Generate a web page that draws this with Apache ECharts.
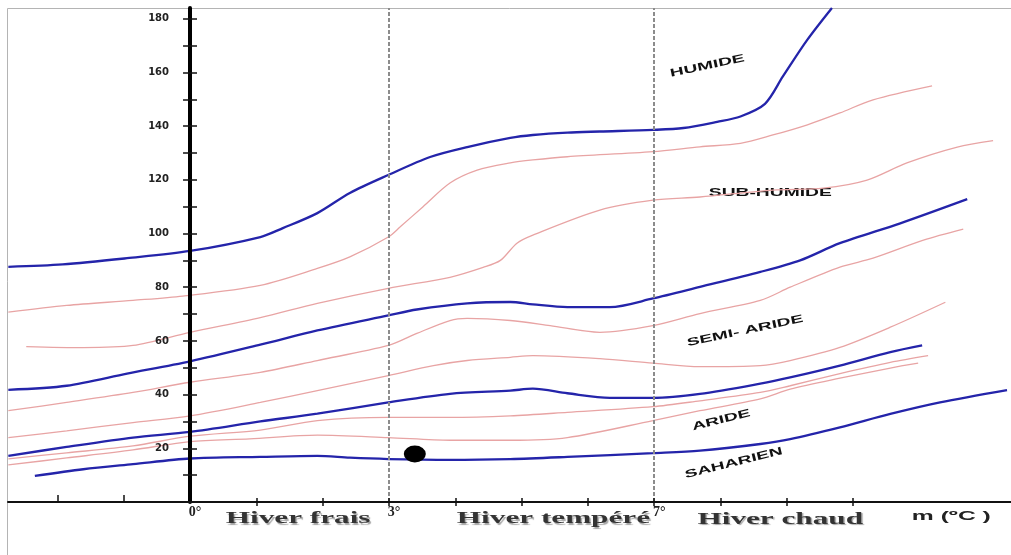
<!DOCTYPE html>
<html><head><meta charset="utf-8">
<script src="https://cdn.jsdelivr.net/npm/echarts@6/dist/echarts.min.js"></script>
<style>html,body{margin:0;padding:0;background:#fff}#c{width:1011px;height:555px}</style>
</head><body><div id="c"></div>
<script>
// Emberger climagram: x = m (°C), y = Q2
const limitHumide = [[-2.74,87.6],[-1.92,88.5],[-0.95,90.8],[0,93.5],[1.06,98.7],[1.40,102],[1.92,107.6],[2.41,115.1],[2.99,121.8],[3.62,128.5],[4.18,132.2],[4.83,135.6],[5.17,136.7],[5.69,137.6],[6.18,138],[6.98,138.6],[7.44,139.3],[7.95,141.6],[8.30,143.6],[8.67,148.3],[8.94,158.5],[9.31,172.2],[9.68,184]];
const subHumideUpper = [[-2.74,70.7],[-1.86,73.2],[-0.86,75.1],[-0.11,76.7],[1.06,80.7],[1.92,87],[2.41,91.3],[2.99,98.7],[3.17,102.5],[3.51,109.9],[3.92,118.8],[4.33,123.6],[4.83,126.3],[5.17,127.4],[5.69,128.6],[6.98,130.5],[7.69,132.3],[8.30,133.6],[8.79,136.7],[9.31,140.5],[9.80,144.9],[10.30,149.8],[11.19,155]];
const subHumideLower = [[-2.47,57.9],[-1.61,57.5],[-0.86,58.3],[0,63.2],[1.06,68.7],[1.92,74],[2.99,79.6],[3.92,83.7],[4.42,87.4],[4.68,90],[4.93,96.4],[5.17,99.4],[6.18,108.7],[6.98,112.4],[7.69,113.6],[8.79,116.2],[9.55,116.9],[10.21,119.9],[10.81,126.3],[11.57,132.2],[12.11,134.6]];
const limitSubHumide = [[-2.74,41.8],[-1.86,43.3],[-0.95,47.8],[0,52.4],[1.06,58.6],[1.92,63.9],[2.99,69.5],[3.42,71.7],[4.18,74],[4.83,74.5],[5.17,73.6],[5.69,72.6],[6.33,72.6],[6.98,75.8],[7.69,80.1],[8.60,85.7],[9.20,90],[9.80,96.4],[10.71,103.8],[11.72,112.8]];
const semiArideUpper = [[-2.74,34],[-1.86,37.1],[-0.86,40.8],[0,44.6],[1.06,48.3],[1.92,52.7],[2.99,58.3],[3.42,62.8],[3.92,67.6],[4.18,68.4],[4.83,67.6],[5.43,65.7],[6.18,63.2],[6.98,65.7],[7.69,70.2],[8.60,75.1],[9.05,80],[9.80,87.5],[10.30,90.8],[11.06,97.5],[11.66,101.6]];
const semiArideLower = [[-2.74,24],[-1.86,26.5],[-0.86,29.6],[0,32.1],[1.06,37.1],[1.92,41.5],[2.99,47.1],[3.67,50.8],[4.18,52.7],[4.83,53.9],[5.17,54.5],[6.18,53.4],[6.98,51.7],[7.69,50.4],[8.60,50.8],[9.05,52.7],[9.80,57.6],[10.56,65.1],[11.39,74.4]];
const limitSemiAride = [[-2.74,17.2],[-1.86,20.5],[-0.86,24],[0,26.1],[1.06,30],[1.92,32.9],[2.99,37.1],[3.92,40.3],[4.83,41.5],[5.17,42.2],[5.69,40.5],[6.33,38.8],[6.98,38.8],[7.69,40.3],[8.60,44.1],[9.05,46.4],[9.80,50.8],[10.56,55.8],[11.04,58.3]];
const arideUpper = [[-2.74,16.1],[-1.86,18.3],[-0.86,20.9],[0,24.5],[1.06,26.8],[1.92,30.3],[2.99,31.5],[3.92,31.5],[4.83,32.1],[5.69,33.4],[6.98,35.5],[7.69,37.7],[8.60,40.8],[9.05,43.3],[9.80,47.8],[10.56,52],[11.13,54.5]];
const arideLower = [[-2.74,13.8],[-1.86,16.4],[-0.86,19.4],[0,22.5],[0.90,23.5],[1.92,24.9],[2.99,24],[3.92,23],[4.83,23],[5.69,24],[6.98,30.3],[7.69,34],[8.60,38.4],[9.05,42],[9.80,46.1],[10.56,49.9],[10.98,51.7]];
const limitAride = [[-2.34,9.7],[-1.61,12.2],[-0.86,14.1],[0,16.2],[1.06,16.8],[1.92,17.2],[2.41,16.5],[2.99,16],[3.92,15.7],[4.83,16],[5.69,16.8],[6.98,18.2],[7.69,19.1],[8.60,21.6],[9.05,23.4],[9.80,27.8],[10.56,32.8],[11.31,37.1],[12.32,41.7]];
const station = [[3.39,17.9]];

const winterLimits = [3, 7];
const xTicksUp = [-2, -1];
const xTicksCross = [1,2,3,4,5,6,7,8,9,10];
const xTickLabels = [0, 3, 7];
const yTicks = [10,20,30,40,50,60,70,80,90,100,110,120,130,140,150,160,170,180];
const yTickLabels = [20,40,60,80,100,120,140,160,180];

const zoneLabels = ['HUMIDE','SUB-HUMIDE','SEMI- ARIDE','ARIDE','SAHARIEN'];
const zoneAnchors = [[7.80,162.4],[8.75,115.1],[8.37,63.7],[8.01,30.5],[8.20,14.5]];
const zoneAngles = [12,0,12,14,14];
const winterLabels = ['Hiver frais','Hiver tempéré','Hiver chaud'];
const winterAnchors = [[1.63,-6.4],[5.48,-6.4],[8.90,-6.6]];
const axisTitle = 'm (ºC )';
const axisTitleAnchor = [11.48,-5.3];

const BLUE = '#2424aa', RED = '#e8a4a4';
const chart = echarts.init(document.getElementById('c'), null, {renderer:'canvas'});
const X_MIN = -2.745, X_MAX = 12.38, Y_MIN = 0, Y_MAX = 184;
const G_LEFT = 8, G_RIGHT = 0, G_TOP = 8, G_BOTTOM = 53, W = 1011;
// the Q2 axis sits at m = 0: a second grid whose left edge is the x = 0 position
const zeroLeft = G_LEFT + (0 - X_MIN) / (X_MAX - X_MIN) * (W - G_LEFT - G_RIGHT);

function xa(extra){ return Object.assign({type:'value', gridIndex:0, min:X_MIN, max:X_MAX, position:'bottom', splitLine:{show:false}, z:10,
  axisLine:{show:false, onZero:false}, axisTick:{show:false}, axisLabel:{show:false}}, extra); }
function ya(extra){ return Object.assign({type:'value', gridIndex:1, min:Y_MIN, max:Y_MAX, position:'left', splitLine:{show:false}, z:10,
  axisLine:{show:false, onZero:false}, axisTick:{show:false}, axisLabel:{show:false}}, extra); }
function blue(d){ return {type:'line', data:d, smooth:0.3, symbol:'none', lineStyle:{color:BLUE, width:2.3}, z:3}; }
function red(d){ return {type:'line', data:d, smooth:0.3, symbol:'none', lineStyle:{color:RED, width:1.3}, z:2}; }

chart.setOption({
  animation:false,
  backgroundColor:'#fff',
  grid:[
    {left:G_LEFT, right:G_RIGHT, top:G_TOP, bottom:G_BOTTOM, outerBoundsMode:'none', containLabel:false},
    {left:zeroLeft, right:G_RIGHT, top:G_TOP, bottom:G_BOTTOM, outerBoundsMode:'none', containLabel:false}
  ],
  xAxis:[
    xa({axisLine:{show:true, onZero:false, lineStyle:{color:'#111', width:2}},
        axisTick:{show:true, inside:true, length:7, customValues:xTicksUp, lineStyle:{color:'#111', width:1.5}},
        axisLabel:{show:true, customValues:xTickLabels, margin:3, fontFamily:'Liberation Serif', fontWeight:'bold', fontSize:14, color:'#222',
          formatter:function(v){ return '{a|' + v + '°}'; },
          rich:{a:{fontFamily:'Liberation Serif', fontWeight:'bold', fontSize:14, color:'#222', padding:[0,0,0,10]}}}}),
    xa({axisTick:{show:true, inside:true, length:4, customValues:xTicksCross, lineStyle:{color:'#111', width:1.5}}}),
    xa({axisTick:{show:true, inside:false, length:4, customValues:xTicksCross, lineStyle:{color:'#111', width:1.5}}}),
    {type:'value', gridIndex:1, min:0, max:1, show:false}
  ],
  yAxis:[
    {type:'value', gridIndex:0, min:Y_MIN, max:Y_MAX, show:false},
    ya({axisLine:{show:true, onZero:false, lineStyle:{color:'#000', width:4}},
        axisTick:{show:true, inside:false, length:7, customValues:yTicks, lineStyle:{color:'#111', width:1.5}},
        axisLabel:{show:true, customValues:yTickLabels, margin:21, fontFamily:'DejaVu Sans', fontWeight:'bold', fontSize:10, color:'#222'}}),
    ya({axisTick:{show:true, inside:true, length:7, customValues:yTicks, lineStyle:{color:'#111', width:1.5}}})
  ],
  series:[
    Object.assign(red(subHumideUpper), {markLine:{silent:true, symbol:'none', label:{show:false},
      lineStyle:{color:'#8c8c8c', type:[4,2], width:2},
      data: winterLimits.map(function(v){ return [{coord:[v, Y_MIN]}, {coord:[v, Y_MAX]}]; })}}),
    red(subHumideLower), red(semiArideUpper), red(semiArideLower), red(arideUpper), red(arideLower),
    blue(limitHumide), blue(limitSubHumide), blue(limitSemiAride), blue(limitAride),
    {type:'scatter', data:station, symbol:'circle', symbolSize:[22,17], itemStyle:{color:'#000', opacity:1}, z:5}
  ]
});

function px(p){ return chart.convertToPixel({xAxisIndex:0, yAxisIndex:0}, p); }
const g = [];
g.push({type:'polyline', silent:true, shape:{points:[[7.5,555],[7.5,8.5],[1011,8.5]]}, style:{stroke:'#b4b4b4', lineWidth:1, fill:null}, z:-1});
zoneLabels.forEach(function(t,i){
  const p = px(zoneAnchors[i]);
  g.push({type:'text', x:p[0], y:p[1], rotation:zoneAngles[i]*Math.PI/180, scaleX:1.75, silent:true,
    style:{text:t, fontFamily:'Liberation Sans', fontWeight:'bold', fontSize:11, fill:'#111', align:'center', verticalAlign:'middle'}});
});
winterLabels.forEach(function(t,i){
  const p = px(winterAnchors[i]);
  g.push({type:'text', x:p[0], y:p[1], scaleX:1.95, silent:true,
    style:{text:t, fontFamily:'Liberation Serif', fontWeight:'bold', fontSize:16, fill:'#333', align:'center', verticalAlign:'middle',
      textShadowColor:'rgba(0,0,0,0.35)', textShadowOffsetX:1.5, textShadowOffsetY:1.5, textShadowBlur:1}});
});
(function(){
  const p = px(axisTitleAnchor);
  g.push({type:'text', x:p[0], y:p[1], scaleX:1.9, silent:true,
    style:{text:axisTitle, fontFamily:'Liberation Sans', fontWeight:'bold', fontSize:13, fill:'#222', align:'center', verticalAlign:'middle'}});
})();
chart.setOption({graphic:g});
</script></body></html>
